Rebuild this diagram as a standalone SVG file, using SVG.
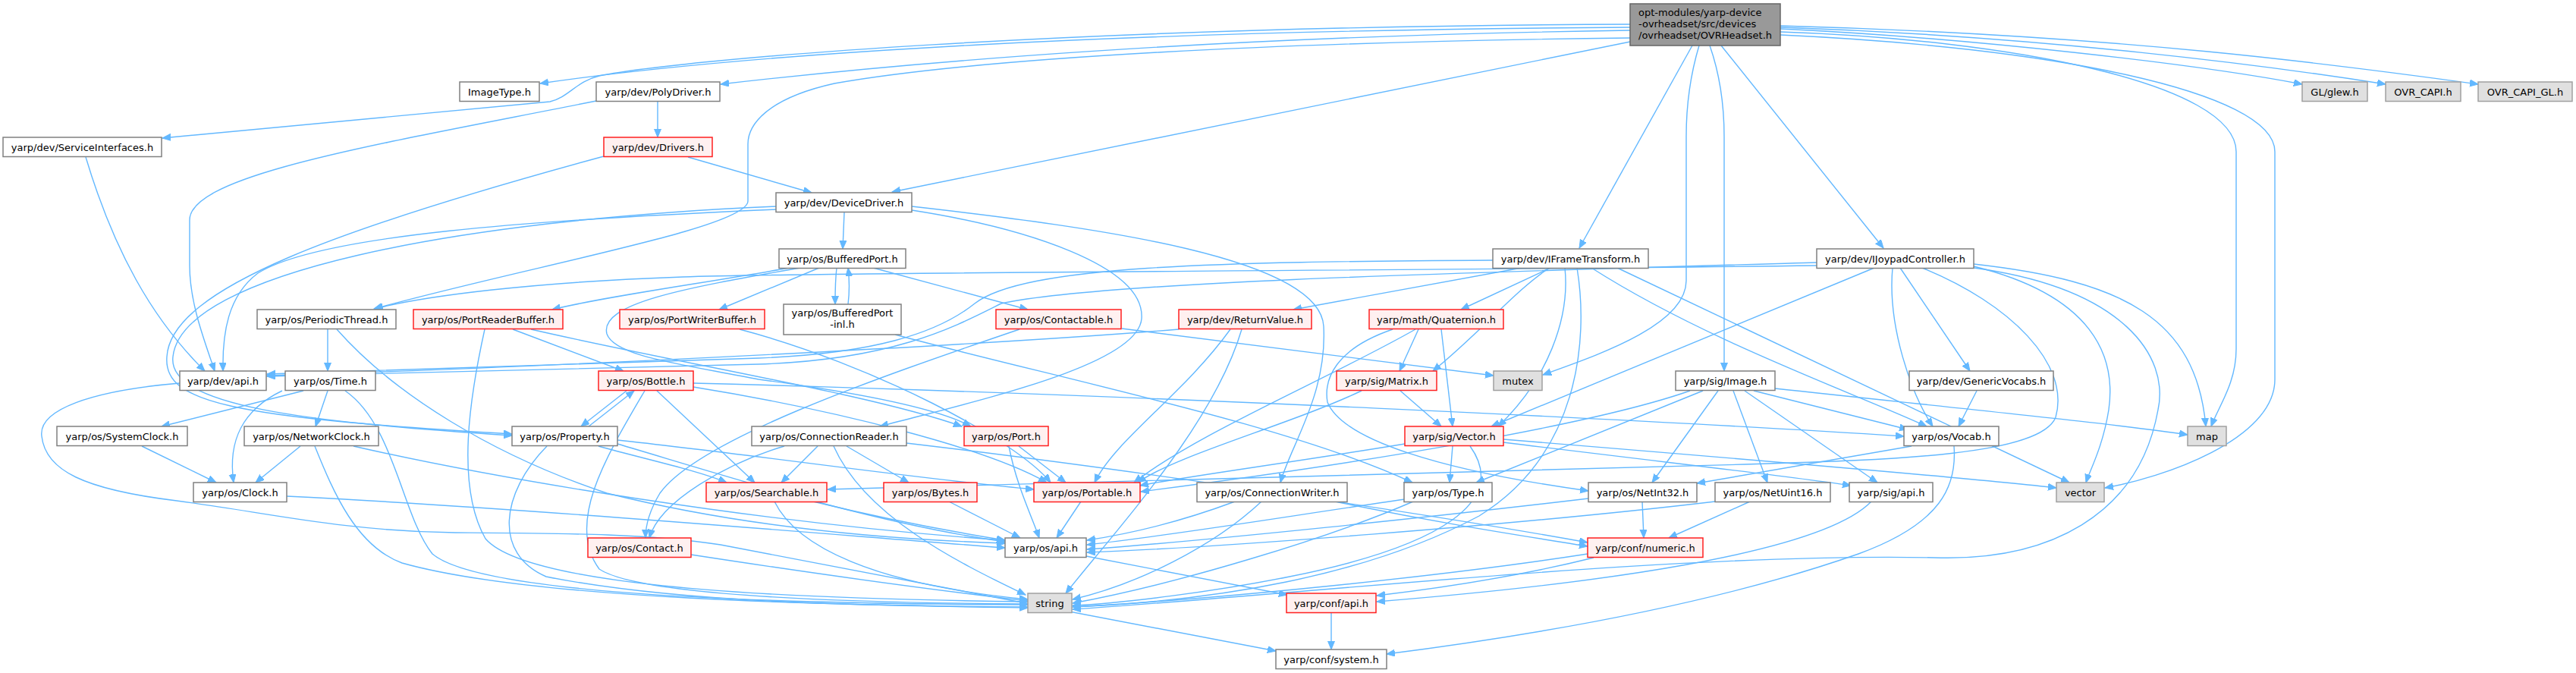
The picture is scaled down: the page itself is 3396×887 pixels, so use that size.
<svg xmlns="http://www.w3.org/2000/svg" width="3396" height="887" viewBox="0 0 3396 887">
<style>
.nd rect{fill:#ffffff;stroke:#808080;stroke-width:1.5}
.rd rect{fill:#fff0f0;stroke:#ff2020;stroke-width:1.5}
.gy rect{fill:#e0e0e0;stroke:#a0a0a0;stroke-width:1.5}
.rt rect{fill:#999999;stroke:#666666;stroke-width:1.5}
text{font-family:"DejaVu Sans","Liberation Sans",sans-serif;font-size:13px;fill:#000;text-anchor:middle}
.rt text{text-anchor:start}
#edges path{fill:none;stroke:#63b8ff;stroke-width:1.4;marker-end:url(#a)}
</style>
<defs>
<marker id="a" markerWidth="12" markerHeight="10" refX="11" refY="4.5" orient="auto" markerUnits="userSpaceOnUse"><path d="M0,0 L11,4.5 L0,9 z" fill="#63b8ff" stroke="#63b8ff" stroke-width="1"/></marker>
</defs>
<rect x="0" y="0" width="3396" height="887" fill="#ffffff"/>
<g id="edges">
<path d="M2149,36 C1500,40 1000,68 712,110"/>
<path d="M2149,40 C1600,48 1200,82 950,111"/>
<path d="M2149,32 C1400,35 900,78 790,100 C760,107 750,128 725,134 L214,182"/>
<path d="M2149,55 L1176,253"/>
<path d="M2149,50 C1700,55 1300,75 1100,110 C1010,130 986,165 986,190 L986,265 C986,300 700,350 493,407"/>
<path d="M2231,60 L2082,327"/>
<path d="M2269,60 L2483,327"/>
<path d="M2240,60 C2228,100 2223,140 2223,180 L2223,370 C2223,430 2100,470 2034,494"/>
<path d="M2254,60 C2268,100 2273,140 2273,180 L2273,489"/>
<path d="M2347,38 C2600,50 2900,85 3035,111"/>
<path d="M2347,36 C2700,48 3000,88 3145,111"/>
<path d="M2347,34 C2800,46 3100,88 3267,111"/>
<path d="M2347,42 C2650,52 2948,110 2948,200 L2948,460 C2948,505 2925,535 2915,562"/>
<path d="M2347,46 C2700,62 2999,120 2999,200 L2999,500 C2999,580 2850,630 2775,643"/>
<path d="M113,207 C150,330 200,420 270,489"/>
<path d="M867,133 L867,181"/>
<path d="M786,133 C500,190 250,230 250,290 L250,350 C250,400 270,450 283,489"/>
<path d="M907,207 L1070,254"/>
<path d="M796,206 C450,300 225,380 220,470 C215,530 300,550 675,572"/>
<path d="M1023,272 C600,290 240,360 228,470 C220,535 400,556 675,574"/>
<path d="M1023,276 C700,290 420,310 340,360 C300,390 293,440 294,489"/>
<path d="M1113,280 L1111,328"/>
<path d="M1202,277 C1350,300 1510,350 1505,420 C1500,480 1300,525 1160,562"/>
<path d="M1202,272 C1450,300 1740,340 1745,430 C1750,520 1700,590 1688,636"/>
<path d="M1103,353 C1101,370 1101,385 1101,401"/>
<path d="M1118,401 C1120,385 1120,370 1118,353"/>
<path d="M1080,353 L948,408"/>
<path d="M1151,353 L1355,408"/>
<path d="M1040,353 C950,370 800,390 728,408"/>
<path d="M1055,353 C900,380 790,400 800,440 C810,470 900,480 1000,500 C1150,520 1240,540 1280,562"/>
<path d="M1180,441 C1400,500 1700,560 1862,636"/>
<path d="M432,434 L432,489"/>
<path d="M444,434 C520,520 650,600 800,650 C1000,700 1200,712 1325,716"/>
<path d="M676,434 L822,489"/>
<path d="M639,434 C620,520 600,640 640,710 C700,780 1100,790 1355,793"/>
<path d="M700,434 C900,480 1150,520 1268,562"/>
<path d="M975,434 C1150,480 1340,580 1385,636"/>
<path d="M1344,434 C1150,500 920,580 870,650 C855,675 851,695 851,709"/>
<path d="M1479,433 C1700,460 1850,480 1969,495"/>
<path d="M1554,434 C1300,455 700,485 352,495"/>
<path d="M1622,434 C1560,520 1470,580 1443,636"/>
<path d="M1637,434 C1600,560 1470,700 1405,782"/>
<path d="M1870,434 L1845,489"/>
<path d="M1900,434 L1915,562"/>
<path d="M1866,434 C1750,500 1580,570 1495,636"/>
<path d="M1836,434 C1760,460 1745,500 1750,530 C1770,580 1900,620 2094,647"/>
<path d="M2006,353 L1705,408"/>
<path d="M2044,353 L1926,408"/>
<path d="M1968,343 C1600,345 1350,350 1285,400 C1235,440 1150,466 1000,472 C700,482 450,489 352,493"/>
<path d="M2043,353 C2000,380 1950,440 1889,489"/>
<path d="M2063,353 C2070,420 2040,500 1975,562"/>
<path d="M2079,353 C2095,450 2080,600 1950,680 C1800,760 1600,792 1414,800"/>
<path d="M2098,353 C2250,450 2450,520 2540,562"/>
<path d="M2132,353 L2728,636"/>
<path d="M2395,350 C1800,358 1100,358 900,365 C700,372 560,390 494,407"/>
<path d="M2395,346 C1900,360 1450,372 1320,400 C1260,430 1180,474 1000,480 C700,488 450,492 352,496"/>
<path d="M2471,353 L1966,562"/>
<path d="M2505,353 L2597,489"/>
<path d="M2495,353 C2488,430 2520,520 2548,562"/>
<path d="M2602,348 C2800,370 2895,420 2908,562"/>
<path d="M2602,351 C2760,390 2790,470 2780,540 C2772,590 2755,620 2750,636"/>
<path d="M2602,353 C2800,380 2860,470 2845,540 C2820,680 2700,740 2550,735 C2200,728 1700,785 1414,803"/>
<path d="M2534,353 C2650,400 2730,480 2710,550 C2690,600 2500,606 2300,612 C1800,625 1300,638 1091,645"/>
<path d="M237,505 C120,515 50,540 55,575 C60,620 110,645 233,660 C350,675 450,700 600,702 C750,703 850,703 950,718 L1682,858"/>
<path d="M400,515 L213,562"/>
<path d="M372,515 C320,540 300,580 308,636"/>
<path d="M432,515 L416,562"/>
<path d="M455,515 C520,560 530,680 570,730 C640,790 1100,796 1355,797"/>
<path d="M187,588 L285,636"/>
<path d="M396,588 L337,636"/>
<path d="M415,588 C440,650 470,720 530,742 C700,790 1100,798 1355,800"/>
<path d="M466,588 C650,630 1000,690 1325,712"/>
<path d="M378,654 C700,670 1100,705 1325,722"/>
<path d="M826,515 L766,562"/>
<path d="M776,562 L836,515"/>
<path d="M866,515 L995,636"/>
<path d="M914,510 C1100,540 1300,590 1380,636"/>
<path d="M914,505 C1500,520 2200,555 2510,575"/>
<path d="M850,515 C800,600 745,690 790,750 C850,790 1200,795 1355,796"/>
<path d="M721,588 C660,650 650,730 720,760 C900,796 1150,798 1355,801"/>
<path d="M789,588 C850,605 920,620 958,636"/>
<path d="M814,580 C1000,600 1200,630 1363,645"/>
<path d="M814,585 C950,625 1150,690 1325,714"/>
<path d="M1078,588 L1030,636"/>
<path d="M1116,588 L1198,636"/>
<path d="M1034,588 C960,610 870,660 856,709"/>
<path d="M1099,588 C1140,680 1260,740 1352,784"/>
<path d="M1195,584 C1500,620 1900,680 2093,715"/>
<path d="M1072,661 C1150,680 1250,700 1325,712"/>
<path d="M1021,661 C1050,720 1150,770 1355,790"/>
<path d="M1251,661 L1345,709"/>
<path d="M1425,661 L1393,709"/>
<path d="M1330,588 C1340,640 1360,680 1370,709"/>
<path d="M1343,588 L1405,636"/>
<path d="M1628,661 C1550,690 1480,705 1433,712"/>
<path d="M1663,661 C1600,720 1500,770 1414,790"/>
<path d="M1760,661 C1900,690 2000,705 2093,720"/>
<path d="M911,731 C1100,760 1250,780 1355,792"/>
<path d="M1846,515 L1900,562"/>
<path d="M1795,515 C1700,560 1550,600 1500,636"/>
<path d="M1915,588 L1911,636"/>
<path d="M1982,583 C2200,610 2380,630 2440,640"/>
<path d="M1982,579 C2300,605 2600,630 2711,643"/>
<path d="M1852,585 C1700,610 1550,630 1503,640"/>
<path d="M1938,588 C1990,660 1900,720 1700,760 C1600,780 1480,795 1414,798"/>
<path d="M1852,658 C1700,680 1550,705 1433,718"/>
<path d="M1863,661 C1750,710 1550,770 1414,795"/>
<path d="M2228,515 C2100,560 1800,610 1504,648"/>
<path d="M2245,515 L1946,636"/>
<path d="M2265,515 L2178,636"/>
<path d="M2285,515 L2330,636"/>
<path d="M2300,515 L2475,636"/>
<path d="M2312,515 L2515,566"/>
<path d="M2340,512 C2600,540 2800,560 2884,573"/>
<path d="M2606,515 L2582,562"/>
<path d="M2520,588 L2237,637"/>
<path d="M2576,588 C2580,640 2560,690 2450,730 C2250,800 2000,840 1828,862"/>
<path d="M2165,661 L2167,709"/>
<path d="M2094,657 C1900,680 1600,712 1433,724"/>
<path d="M2307,661 L2200,709"/>
<path d="M2261,661 C2000,692 1600,722 1433,728"/>
<path d="M2467,661 C2400,730 2100,770 1815,793"/>
<path d="M2101,735 C2000,760 1900,775 1815,785"/>
<path d="M2093,730 C1900,760 1600,790 1414,800"/>
<path d="M1432,733 C1550,755 1650,775 1697,784"/>
<path d="M1755,808 L1755,856"/>
</g>
<g id="n_root" class="rt"><rect x="2149" y="5" width="198" height="55"/><text x="2160" y="21">opt-modules/yarp-device</text><text x="2160" y="36">-ovrheadset/src/devices</text><text x="2160" y="51">/ovrheadset/OVRHeadset.h</text></g>
<g id="n_imagetype" class="nd"><rect x="606" y="108" width="105" height="25.5"/><text x="658.5" y="125.5">ImageType.h</text></g>
<g id="n_polydriver" class="nd"><rect x="786" y="108" width="163" height="25.5"/><text x="867.5" y="125.5">yarp/dev/PolyDriver.h</text></g>
<g id="n_glew" class="gy"><rect x="3035" y="108" width="86" height="25.5"/><text x="3078" y="125.5">GL/glew.h</text></g>
<g id="n_ovrcapi" class="gy"><rect x="3145" y="108" width="99" height="25.5"/><text x="3194.5" y="125.5">OVR_CAPI.h</text></g>
<g id="n_ovrcapigl" class="gy"><rect x="3267" y="108" width="124" height="25.5"/><text x="3329" y="125.5">OVR_CAPI_GL.h</text></g>
<g id="n_serviceinterfaces" class="nd"><rect x="4" y="181" width="209" height="25.5"/><text x="108.5" y="198.5">yarp/dev/ServiceInterfaces.h</text></g>
<g id="n_drivers" class="rd"><rect x="796" y="181" width="143" height="25.5"/><text x="867.5" y="198.5">yarp/dev/Drivers.h</text></g>
<g id="n_devicedriver" class="nd"><rect x="1023" y="254" width="179" height="25.5"/><text x="1112.5" y="271.5">yarp/dev/DeviceDriver.h</text></g>
<g id="n_bufferedport" class="nd"><rect x="1027" y="328" width="167" height="25.5"/><text x="1110.5" y="345.5">yarp/os/BufferedPort.h</text></g>
<g id="n_iframetransform" class="nd"><rect x="1968" y="328" width="205" height="25.5"/><text x="2070.5" y="345.5">yarp/dev/IFrameTransform.h</text></g>
<g id="n_ijoypad" class="nd"><rect x="2395" y="328" width="207" height="25.5"/><text x="2498.5" y="345.5">yarp/dev/IJoypadController.h</text></g>
<g id="n_periodicthread" class="nd"><rect x="339" y="408" width="183" height="25.5"/><text x="430.5" y="425.5">yarp/os/PeriodicThread.h</text></g>
<g id="n_portreaderbuffer" class="rd"><rect x="545" y="408" width="197" height="25.5"/><text x="643.5" y="425.5">yarp/os/PortReaderBuffer.h</text></g>
<g id="n_portwriterbuffer" class="rd"><rect x="817" y="408" width="191" height="25.5"/><text x="912.5" y="425.5">yarp/os/PortWriterBuffer.h</text></g>
<g id="n_bufferedportinl" class="nd"><rect x="1033" y="401" width="155" height="40"/><text x="1110.5" y="417">yarp/os/BufferedPort</text><text x="1110.5" y="432">-inl.h</text></g>
<g id="n_contactable" class="rd"><rect x="1313" y="408" width="165" height="25.5"/><text x="1395.5" y="425.5">yarp/os/Contactable.h</text></g>
<g id="n_returnvalue" class="rd"><rect x="1554" y="408" width="175" height="25.5"/><text x="1641.5" y="425.5">yarp/dev/ReturnValue.h</text></g>
<g id="n_quaternion" class="rd"><rect x="1805" y="408" width="177" height="25.5"/><text x="1893.5" y="425.5">yarp/math/Quaternion.h</text></g>
<g id="n_devapi" class="nd"><rect x="237" y="489" width="114" height="25.5"/><text x="294" y="506.5">yarp/dev/api.h</text></g>
<g id="n_time" class="nd"><rect x="376" y="489" width="119" height="25.5"/><text x="435.5" y="506.5">yarp/os/Time.h</text></g>
<g id="n_bottle" class="rd"><rect x="789" y="489" width="125" height="25.5"/><text x="851.5" y="506.5">yarp/os/Bottle.h</text></g>
<g id="n_matrix" class="rd"><rect x="1762" y="489" width="132" height="25.5"/><text x="1828" y="506.5">yarp/sig/Matrix.h</text></g>
<g id="n_mutex" class="gy"><rect x="1969" y="489" width="64" height="25.5"/><text x="2001" y="506.5">mutex</text></g>
<g id="n_image" class="nd"><rect x="2209" y="489" width="131" height="25.5"/><text x="2274.5" y="506.5">yarp/sig/Image.h</text></g>
<g id="n_genericvocabs" class="nd"><rect x="2517" y="489" width="190" height="25.5"/><text x="2612" y="506.5">yarp/dev/GenericVocabs.h</text></g>
<g id="n_systemclock" class="nd"><rect x="75" y="562" width="172" height="25.5"/><text x="161" y="579.5">yarp/os/SystemClock.h</text></g>
<g id="n_networkclock" class="nd"><rect x="322" y="562" width="177" height="25.5"/><text x="410.5" y="579.5">yarp/os/NetworkClock.h</text></g>
<g id="n_property" class="nd"><rect x="675" y="562" width="139" height="25.5"/><text x="744.5" y="579.5">yarp/os/Property.h</text></g>
<g id="n_connectionreader" class="nd"><rect x="991" y="562" width="204" height="25.5"/><text x="1093" y="579.5">yarp/os/ConnectionReader.h</text></g>
<g id="n_port" class="rd"><rect x="1271" y="562" width="111" height="25.5"/><text x="1326.5" y="579.5">yarp/os/Port.h</text></g>
<g id="n_vector" class="rd"><rect x="1852" y="562" width="130" height="25.5"/><text x="1917" y="579.5">yarp/sig/Vector.h</text></g>
<g id="n_vocab" class="nd"><rect x="2510" y="562" width="125" height="25.5"/><text x="2572.5" y="579.5">yarp/os/Vocab.h</text></g>
<g id="n_map" class="gy"><rect x="2884" y="562" width="51" height="25.5"/><text x="2909.5" y="579.5">map</text></g>
<g id="n_clock" class="nd"><rect x="255" y="636" width="123" height="25.5"/><text x="316.5" y="653.5">yarp/os/Clock.h</text></g>
<g id="n_searchable" class="rd"><rect x="931" y="636" width="159" height="25.5"/><text x="1010.5" y="653.5">yarp/os/Searchable.h</text></g>
<g id="n_bytes" class="rd"><rect x="1165" y="636" width="123" height="25.5"/><text x="1226.5" y="653.5">yarp/os/Bytes.h</text></g>
<g id="n_portable" class="rd"><rect x="1363" y="636" width="140" height="25.5"/><text x="1433" y="653.5">yarp/os/Portable.h</text></g>
<g id="n_connectionwriter" class="nd"><rect x="1578" y="636" width="198" height="25.5"/><text x="1677" y="653.5">yarp/os/ConnectionWriter.h</text></g>
<g id="n_type" class="nd"><rect x="1851" y="636" width="116" height="25.5"/><text x="1909" y="653.5">yarp/os/Type.h</text></g>
<g id="n_netint32" class="nd"><rect x="2094" y="636" width="143" height="25.5"/><text x="2165.5" y="653.5">yarp/os/NetInt32.h</text></g>
<g id="n_netuint16" class="nd"><rect x="2261" y="636" width="152" height="25.5"/><text x="2337" y="653.5">yarp/os/NetUint16.h</text></g>
<g id="n_sigapi" class="nd"><rect x="2438" y="636" width="110" height="25.5"/><text x="2493" y="653.5">yarp/sig/api.h</text></g>
<g id="n_vectorstd" class="gy"><rect x="2711" y="636" width="63" height="25.5"/><text x="2742.5" y="653.5">vector</text></g>
<g id="n_contact" class="rd"><rect x="775" y="709" width="136" height="25.5"/><text x="843" y="726.5">yarp/os/Contact.h</text></g>
<g id="n_osapi" class="nd"><rect x="1325" y="709" width="107" height="25.5"/><text x="1378.5" y="726.5">yarp/os/api.h</text></g>
<g id="n_numeric" class="rd"><rect x="2093" y="709" width="152" height="25.5"/><text x="2169" y="726.5">yarp/conf/numeric.h</text></g>
<g id="n_string" class="gy"><rect x="1355" y="782" width="58" height="25.5"/><text x="1384" y="799.5">string</text></g>
<g id="n_confapi" class="rd"><rect x="1696" y="782" width="118" height="25.5"/><text x="1755" y="799.5">yarp/conf/api.h</text></g>
<g id="n_confsystem" class="nd"><rect x="1682" y="856" width="146" height="25.5"/><text x="1755" y="873.5">yarp/conf/system.h</text></g>
</svg>
